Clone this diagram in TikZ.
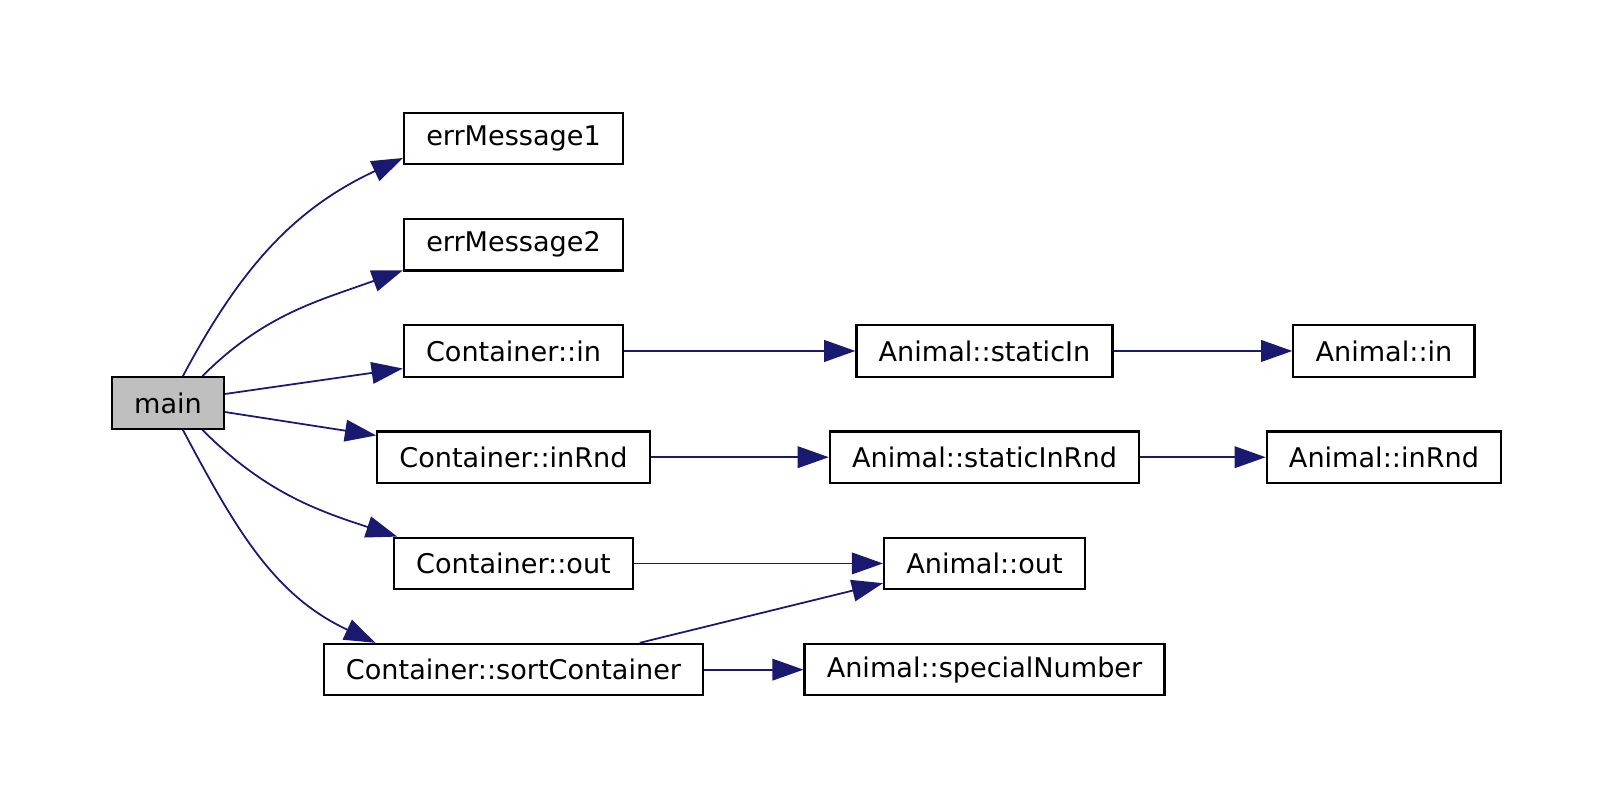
\documentclass[tikz,border=0pt]{standalone}
\usepackage{fontspec}
\setmainfont{DejaVu Sans}
\usetikzlibrary{arrows.meta}
\definecolor{callblue}{HTML}{191970}
\definecolor{mainfill}{HTML}{BFBFBF}

\begin{document}
\begin{tikzpicture}[x=0.369pt, y=0.369pt, node distance={39.2pt}, font=\fontsize{10}{12}\selectfont,
	fn/.style={draw, rectangle, line width=0.8pt, inner xsep=8.2pt, inner ysep=0pt, minimum height=19pt},
	call/.style={draw=callblue, line width=0.65pt, -{Triangle[length=11.5pt,width=8pt]}}]
		\useasboundingbox (0,0) rectangle (1614,806);

		\node[fn, fill=mainfill] (main) at (168,403) {main};
		\node[fn] (em1) at (513.5,667.5) {errMessage1};
		\node[fn] (em2) [below of = em1] {errMessage2};
		\node[fn] (cin) [below of = em2] {Container::in};
		\node[fn] (cinrnd) [below of = cin] {Container::inRnd};
		\node[fn] (cout) [below of = cinrnd] {Container::out};
		\node[fn] (csort) [below of = cout] {Container::sortContainer};

		\node[fn] (asin) [node distance=173.8pt, right of = cin] {Animal::staticIn};
		\node[fn] (asinrnd) [node distance=173.8pt, right of = cinrnd] {Animal::staticInRnd};
		\node[fn] (aout) [node distance=173.8pt, right of = cout] {Animal::out};
		\node[fn] (aspec) [node distance=173.8pt, right of = csort] {Animal::specialNumber};
		\node[fn] (ain) [node distance=147.4pt, right of = asin] {Animal::in};
		\node[fn] (ainrnd) [node distance=147.4pt, right of = asinrnd] {Animal::inRnd};

		\draw[call] (main.61) to[out=62, in=205] (em1.190);
		\draw[call] (main.38) to[out=45, in=200] (em2.193);
		\draw[call] (main.9) -- (cin.189);
		\draw[call] (main.-9) -- (cinrnd.171);
		\draw[call] (main.-38) to[out=-45, in=162] (cout.167);
		\draw[call] (main.-61) to[out=-62, in=155] (csort.169);

		\draw[call] (cin) -- (asin);
		\draw[call] (cinrnd) -- (asinrnd);
		\draw[call] (cout) -- (aout);
		\draw[call] (csort.12) -- (aout.191);
		\draw[call] (csort) -- (aspec);
		\draw[call] (asin) -- (ain);
		\draw[call] (asinrnd) -- (ainrnd);
	\end{tikzpicture}
\end{document}
